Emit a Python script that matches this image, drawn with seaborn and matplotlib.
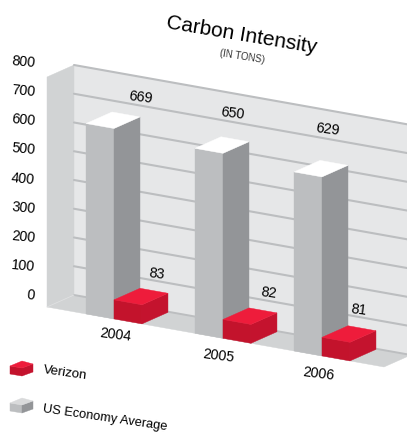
import pandas as pd
import matplotlib
matplotlib.use("Agg")
import matplotlib.pyplot as plt
from matplotlib.patches import Polygon
from matplotlib.transforms import Affine2D, IdentityTransform
import seaborn as sns

# dati
years = ["2004", "2005", "2006"]
verizon = [83, 82, 81]
us_average = [669, 650, 629]
ticks = [0, 100, 200, 300, 400, 500, 600, 700, 800]

# impaginazione (pixel della figura)
W, H = 407, 435
UNIT = 104
PX_PER_TON = 0.2875
X0, Y0 = 114, 127
LEFT_X = 47
SHEAR = 0.178
DEPTH = (27, 12)
BAR_DEPTH = 26 / 27
GRAY_RATIO = 0.99
RED_RATIO = 0.80  # le scatole rosse sono disegnate piu basse della scala
slots = [0, 1.048, 2]
x_left, x_right = (LEFT_X - X0) / UNIT, 2.596

INK = "#000000"
FLOOR = "#d1d3d4"
WALL = "#e6e7e8"
GRID = "#bcbec0"
GRAY = ("#bcbec0", "#939598", "#ffffff")
RED = ("#c3132c", "#c4132e", "#ee1c3b")

sns.set_theme(style="white")
plt.rcParams["font.family"] = ["Liberation Sans", "DejaVu Sans"]

df = pd.DataFrame({
    "year": years * 2,
    "tons": us_average + verizon,
    "series": ["US Economy Average"] * 3 + ["Verizon"] * 3,
})

fig = plt.figure(figsize=(W / 100, H / 100), dpi=100)
ax = fig.add_axes([0, 0, 1, 1])
sns.barplot(data=df, x="year", y="tons", hue="series", order=years,
            hue_order=["US Economy Average", "Verizon"], width=0.538, gap=0,
            errorbar=None, legend=False, ax=ax)
ax.set_xlim(-X0 / UNIT, (W - X0) / UNIT)
ax.set_ylim(-Y0 / PX_PER_TON, (H - Y0) / PX_PER_TON)
ax.axis("off")

# trasformazioni: taglio del piano frontale e spostamento verso la parete
shear = Affine2D.from_values(1, -SHEAR, 0, 1, 0, SHEAR * LEFT_X)
front_tr = ax.transData + shear
back_tr = front_tr + Affine2D().translate(*DEPTH)


def to_px(x, v, d=0):
    px, py = front_tr.transform((x, v))
    return px + d * DEPTH[0], py + d * DEPTH[1]


def poly(points, color, z):
    ax.add_patch(Polygon(points, closed=True, facecolor=color, edgecolor=color,
                         linewidth=0.3, transform=IdentityTransform(), zorder=z))


def label(x, y, s, size=10.3, rot=-7, ha="center", color=INK):
    ax.text(x, H - y - 1, s, fontsize=size, rotation=rot, rotation_mode="anchor",
            ha=ha, va="center", color=color, transform=IdentityTransform(), zorder=20)


# pavimento e pareti
poly([to_px(x_left, 0), to_px(x_right, 0), to_px(x_right, 0, 1), to_px(x_left, 0, 1)], FLOOR, 1)
poly([to_px(x_left, 0, 1), to_px(x_right, 0, 1), to_px(x_right, 800, 1), to_px(x_left, 800, 1)], WALL, 1)
poly([to_px(x_left, 0), to_px(x_left, 800), to_px(x_left, 800, 1), to_px(x_left, 0, 1)], FLOOR, 2)
ax.plot([x_left, x_right], [ticks[0]] * 2, transform=back_tr, color=GRID, lw=1.4, zorder=2)
for t in ticks[1:]:
    ax.plot([x_left, x_right], [t, t], transform=back_tr, color=GRID, lw=1.5, zorder=2)
ax.plot([to_px(x_left, 0)[0], to_px(x_left, 0, 1)[0]], [to_px(x_left, 0)[1], to_px(x_left, 0, 1)[1]],
        transform=IdentityTransform(), color="#dfe0e1", lw=0.6, zorder=3)

# barre: la faccia frontale viene da seaborn, fianco e tetto dalle sue misure
for n, (container, colors, ratio) in enumerate(zip(ax.containers, (GRAY, RED), (GRAY_RATIO, RED_RATIO))):
    z = 5 + n
    for i, bar in enumerate(container):
        bar.set_x(bar.get_x() + slots[i] - i)
        bar.set_facecolor(colors[0])
        bar.set_edgecolor(colors[0])
        bar.set_linewidth(0.3)
        bar.set_zorder(z)
        bar.set_transform(Affine2D().scale(1, ratio) + front_tr)
        a, b = bar.get_x(), bar.get_x() + bar.get_width()
        top = bar.get_height() * ratio
        poly([to_px(b, 0), to_px(b, top), to_px(b, top, BAR_DEPTH), to_px(b, 0, BAR_DEPTH)], colors[1], z)
        poly([to_px(a, top), to_px(b, top), to_px(b, top, BAR_DEPTH), to_px(a, top, BAR_DEPTH)], colors[2], z)

# testi
label(242, 34, "Carbon Intensity", size=15, rot=-9.5)
label(242, 56, "(IN TONS)", size=7, rot=-9, color="#333333")
for t in ticks:
    label(35, 295 - 0.291 * t, str(t), ha="right", rot=-5)
for (x, y), v in zip([(141, 96), (233, 112), (328, 128)], us_average):
    label(x, y, str(v))
for (x, y), v in zip([(157, 273), (269, 292), (359, 309)], verizon):
    label(x, y, str(v))
for (x, y), s in zip([(115, 334), (218, 355), (318, 373)], years):
    label(x, y, s)


# legenda
def swatch(x, y, colors):
    def p(dx, dy):
        return x + dx, H - (y + dy)
    poly([p(0, 0), p(12, 2), p(12, 10), p(0, 8)], colors[0], 10)
    poly([p(12, 2), p(23, -2), p(23, 6), p(12, 10)], colors[1], 10)
    poly([p(0, 0), p(12, -5), p(23, -2), p(12, 2)], colors[2], 10)


swatch(10, 367, RED)
swatch(10, 404, (GRAY[0], GRAY[1], "#d9dadb"))
label(43, 369, "Verizon", ha="left", rot=-8, size=9.5)
label(43, 408, "US Economy Average", ha="left", rot=-8.3, size=9.3)

fig.savefig("out.png", dpi=100)
